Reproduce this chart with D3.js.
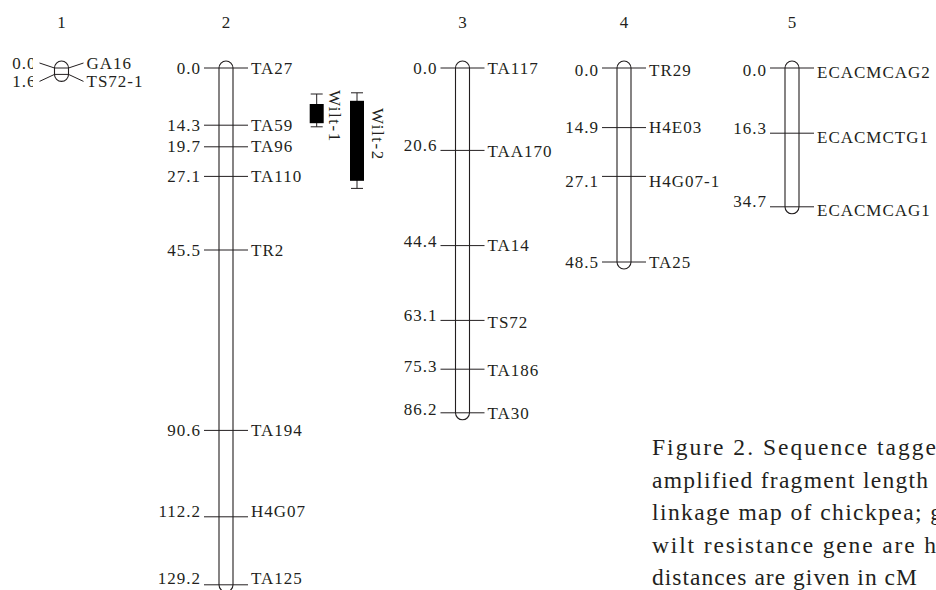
<!DOCTYPE html>
<html>
<head>
<meta charset="utf-8">
<script src="https://cdn.jsdelivr.net/npm/d3@7"></script>
<style>
  body { margin: 0; background: #fff; }
  svg { display: block; }
</style>
</head>
<body>
<svg width="936" height="590"></svg>
<script>
// linkage groups, marker names and positions (cM)
const groupNames = ['1', '2', '3', '4', '5']
const lg1Markers = ['GA16', 'TS72-1']
const lg1Pos = [0.0, 1.6]
const lg2Markers = ['TA27', 'TA59', 'TA96', 'TA110', 'TR2', 'TA194', 'H4G07', 'TA125']
const lg2Pos = [0.0, 14.3, 19.7, 27.1, 45.5, 90.6, 112.2, 129.2]
const lg3Markers = ['TA117', 'TAA170', 'TA14', 'TS72', 'TA186', 'TA30']
const lg3Pos = [0.0, 20.6, 44.4, 63.1, 75.3, 86.2]
const lg4Markers = ['TR29', 'H4E03', 'H4G07-1', 'TA25']
const lg4Pos = [0.0, 14.9, 27.1, 48.5]
const lg5Markers = ['ECACMCAG2', 'ECACMCTG1', 'ECACMCAG1']
const lg5Pos = [0.0, 16.3, 34.7]

// wilt QTLs on group 2
const qtlNames = ['Wilt-1', 'Wilt-2']
const qtlBoxStart = [9.0, 8.2]
const qtlBoxEnd = [13.8, 28.2]
const qtlWhiskerStart = [6.5, 6.2]
const qtlWhiskerEnd = [14.7, 30.1]

const captionLines = [
  'Figure 2. Sequence tagge',
  'amplified fragment length',
  'linkage map of chickpea; g',
  'wilt resistance gene are h',
  'distances are given in cM'
]

const groups = [
  { name: '1', markers: lg1Markers, pos: lg1Pos },
  { name: '2', markers: lg2Markers, pos: lg2Pos },
  { name: '3', markers: lg3Markers, pos: lg3Pos },
  { name: '4', markers: lg4Markers, pos: lg4Pos },
  { name: '5', markers: lg5Markers, pos: lg5Pos }
].map(g => ({ ...g, rows: g.markers.map((m, i) => ({ marker: m, pos: g.pos[i], group: g.name })) }))

// ---- layout ----
const barW = 14
const tick = 15
const gap = 3
const font = 'Liberation Serif'
const fs = 17
const ink = '#231f20'

const y = d3.scaleLinear().domain([0, 129.2]).range([68, 68 + 129.2 * 4])
const x = d3.scaleOrdinal().domain(groupNames).range([61.5, 226, 462.5, 624, 792])
const fmt = d3.format('.1f')

// label nudges [left, right] where the original labels sit off the tick
const labelShift = {
  'GA16': [-5, -5], 'TS72-1': [7, 7],
  'H4G07': [-5, -5], 'TA125': [-6, -6],
  'TAA170': [-5, 1], 'TA14': [-4, 0], 'TS72': [-5, 2], 'TA186': [-3, 1], 'TA30': [-3, 1],
  'TR29': [2, 2], 'H4G07-1': [5, 5],
  'ECACMCAG2': [2, 4], 'ECACMCTG1': [-5, 4], 'ECACMCAG1': [-5, 4]
}
const fanGroups = new Set(['1'])
const shift = (m, side) => (labelShift[m] ? labelShift[m][side] : 0)

const svg = d3.select('svg')

svg.append('defs').append('clipPath').attr('id', 'lg1clip')
  .append('rect').attr('x', 0).attr('y', 0).attr('width', 33).attr('height', 120)

const g = svg.append('g').selectAll('g')
  .data(groups)
  .join('g')
  .attr('transform', d => `translate(${x(d.name)},0)`)

// group titles
g.append('text')
  .attr('y', 22)
  .attr('dy', '0.33em')
  .attr('text-anchor', 'middle')
  .attr('font-family', font)
  .attr('font-size', fs)
  .attr('fill', ink)
  .text(d => d.name)

// chromosome outline
g.append('rect')
  .attr('x', -barW / 2)
  .attr('y', d => y(0) - barW / 2)
  .attr('width', barW)
  .attr('height', d => y(d3.max(d.pos)) - y(0) + barW)
  .attr('rx', barW / 2)
  .attr('fill', 'none')
  .attr('stroke', ink)
  .attr('stroke-width', 1.1)

// marker ticks
g.each(function (d) {
  const sel = d3.select(this)
  const fan = fanGroups.has(d.name)
  const rows = sel.selectAll('g.m').data(d.rows).join('g').attr('class', 'm')

  rows.append('path')
    .attr('fill', 'none')
    .attr('stroke', ink)
    .attr('stroke-width', 1)
    .attr('d', r => {
      const ym = y(r.pos)
      const yl = fan ? ym + shift(r.marker, 0) : ym
      const yr = fan ? ym + shift(r.marker, 1) : ym
      return d3.line()([
        [-barW / 2 - tick, yl], [-barW / 2, ym], [barW / 2, ym], [barW / 2 + tick, yr]
      ])
    })

  rows.append('text')
    .attr('x', -barW / 2 - tick - gap)
    .attr('y', r => y(r.pos) + shift(r.marker, 0))
    .attr('dy', '0.33em')
    .attr('text-anchor', 'end')
    .attr('font-family', font)
    .attr('font-size', fs)
    .attr('letter-spacing', 1)
    .attr('fill', ink)
    .attr('clip-path', fan ? 'url(#lg1clip)' : null)
    .text(r => fmt(r.pos))

  rows.append('text')
    .attr('x', barW / 2 + tick + gap)
    .attr('y', r => y(r.pos) + shift(r.marker, 1))
    .attr('dy', '0.33em')
    .attr('font-family', font)
    .attr('font-size', fs)
    .attr('letter-spacing', 1)
    .attr('fill', ink)
    .text(r => r.marker)
})

// clip group 1 left labels in page coordinates
svg.select('#lg1clip rect').attr('x', -x('1'))

// QTL bars next to group 2
const qtlX = [316.7, 357]
const qtlLabelX = [335, 378]
const qtlLabelY = [90, 108]
const qtl = qtlNames.map((n, i) => ({
  name: n, bs: qtlBoxStart[i], be: qtlBoxEnd[i], ws: qtlWhiskerStart[i], we: qtlWhiskerEnd[i],
  x: qtlX[i], lx: qtlLabelX[i], ly: qtlLabelY[i]
}))

const q = svg.append('g').selectAll('g').data(qtl).join('g')

q.append('line')
  .attr('x1', d => d.x).attr('x2', d => d.x)
  .attr('y1', d => y(d.ws)).attr('y2', d => y(d.we))
  .attr('stroke', ink)
q.selectAll('line.cap')
  .data(d => [[d.x, y(d.ws)], [d.x, y(d.we)]])
  .join('line')
  .attr('class', 'cap')
  .attr('x1', d => d[0] - 6).attr('x2', d => d[0] + 6)
  .attr('y1', d => d[1]).attr('y2', d => d[1])
  .attr('stroke', ink)
q.append('rect')
  .attr('x', d => d.x - 7)
  .attr('width', 14)
  .attr('y', d => y(d.bs))
  .attr('height', d => y(d.be) - y(d.bs))
  .attr('fill', '#000')
q.append('text')
  .attr('transform', d => `translate(${d.lx},${d.ly}) rotate(90)`)
  .attr('dy', '0.33em')
  .attr('font-family', font)
  .attr('font-size', fs)
  .attr('letter-spacing', 1.5)
  .attr('fill', ink)
  .text(d => d.name)

// caption
const capWidths = [284, 276, 290, 284, 265]
svg.append('g').selectAll('text')
  .data(captionLines)
  .join('text')
  .attr('x', 652)
  .attr('y', (d, i) => 455 + i * 32.5)
  .attr('font-family', font)
  .attr('font-size', 23.5)
  .attr('fill', ink)
  .attr('textLength', (d, i) => capWidths[i])
  .attr('lengthAdjust', 'spacing')
  .text(d => d)
</script>
</body>
</html>
